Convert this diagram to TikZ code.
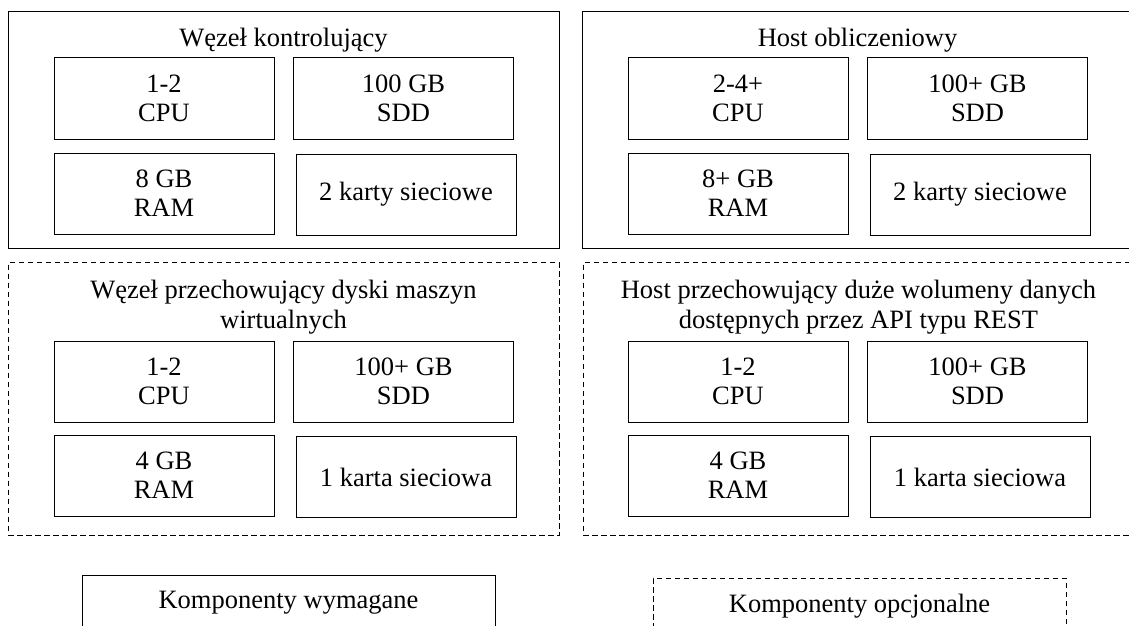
\documentclass[tikz,border=0pt]{standalone}
\usepackage{fontspec}
\setmainfont{Liberation Serif}
\begin{document}
\begin{tikzpicture}[x=1pt,y=-1pt,
  panel/.style={draw, line width=1pt, inner sep=0pt},
  optpanel/.style={panel, dash pattern=on 5.5pt off 3.5pt},
  part/.style={draw, line width=1pt, inner sep=0pt, align=center,
    minimum width=220pt, minimum height=81pt,
    font=\fontsize{26.5}{29}\selectfont},
  title/.style={inner sep=0pt, align=center, font=\fontsize{26.5}{30}\selectfont},
  legend/.style={draw, line width=1pt, inner sep=0pt, minimum width=413pt,
    minimum height=56pt, font=\fontsize{26.5}{30}\selectfont},
  optlegend/.style={legend, dash pattern=on 5.5pt off 3.5pt}]
\useasboundingbox (0,0) rectangle (1129,626);
\clip (0,0) rectangle (1129,626);

% ---- top left: required
\node[panel, minimum width=551pt, minimum height=236pt] (pA) at (283.5,130) {};
\node[title, anchor=base] (tA) at (283.5,47) {Węzeł kontrolujący};
\node[part] (cpuA) at (164,98.5) {1-2\\CPU};
\node[part] (sddA) at (403.5,98.5) {100 GB\\SDD};
\node[part] (ramA) at (164,193.5) {8 GB\\RAM};
\node[part] (netA) at (406,194.5) {2 karty sieciowe};

% ---- top right: required
\node[panel, minimum width=551pt, minimum height=236pt] (pB) at (857.5,130) {};
\node[title, anchor=base] (tB) at (857.5,47) {Host obliczeniowy};
\node[part] (cpuB) at (738,98.5) {2-4+\\CPU};
\node[part] (sddB) at (977.5,98.5) {100+ GB\\SDD};
\node[part] (ramB) at (738,193.5) {8+ GB\\RAM};
\node[part] (netB) at (980,194.5) {2 karty sieciowe};

% ---- bottom left: optional
\node[optpanel, minimum width=551pt, minimum height=273pt] (pC) at (283.5,399.2) {};
\node[title] (tC) at (283.5,307) {Węzeł przechowujący dyski maszyn\\wirtualnych};
\node[part] (cpuC) at (164,381.5) {1-2\\CPU};
\node[part] (sddC) at (403.5,381.5) {100+ GB\\SDD};
\node[part] (ramC) at (164,475.5) {4 GB\\RAM};
\node[part] (netC) at (406,477) {1 karta sieciowa};

% ---- bottom right: optional
\node[optpanel, minimum width=551pt, minimum height=273pt] (pD) at (858.5,399.2) {};
\node[title] (tD) at (858.5,307) {Host przechowujący duże wolumeny danych\\dostępnych przez API typu REST};
\node[part] (cpuD) at (738,381.5) {1-2\\CPU};
\node[part] (sddD) at (977.5,381.5) {100+ GB\\SDD};
\node[part] (ramD) at (738,475.5) {4 GB\\RAM};
\node[part] (netD) at (980,477) {1 karta sieciowa};

% ---- legend
\node[legend] (lgA) at (288.5,603) {Komponenty wymagane};
\node[optlegend] (lgB) at (859.5,606) {Komponenty opcjonalne};
\end{tikzpicture}
\end{document}
